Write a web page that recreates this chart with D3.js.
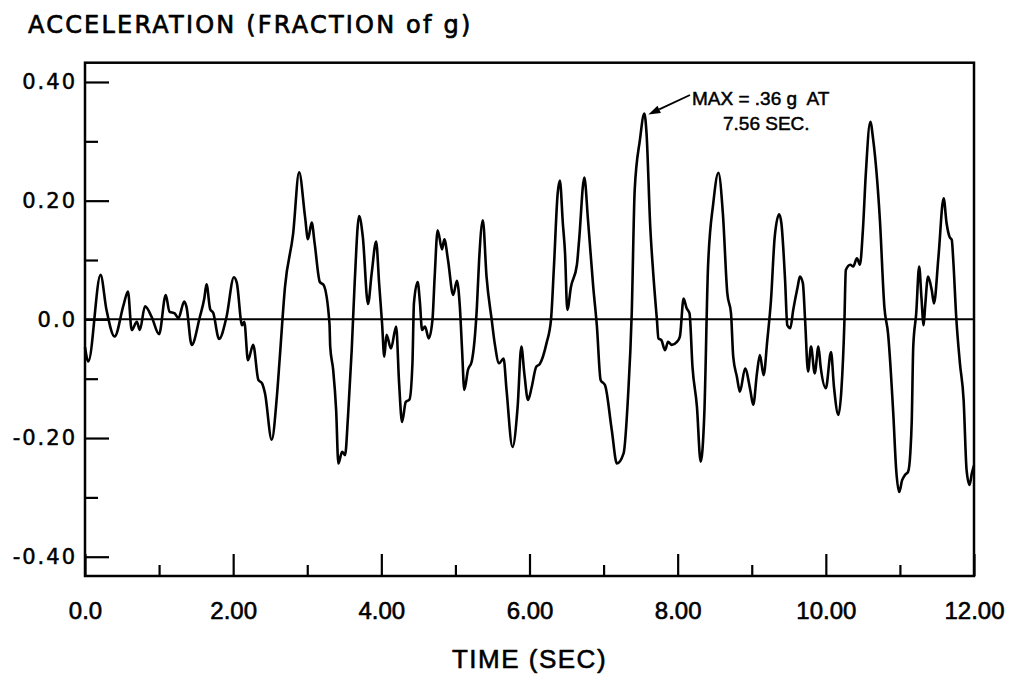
<!DOCTYPE html>
<html>
<head>
<meta charset="utf-8">
<script src="https://cdn.jsdelivr.net/npm/d3@7"></script>
<style>
    body { margin: 0; background: #fff; }
    svg { display: block; }
</style>
</head>
<body>
<svg id="chart" width="1012" height="677"></svg>
<script>

// time in seconds
let timeSec = [0.00,0.045,0.21,0.29,0.40,0.52,0.58,0.63,0.70,0.74,0.81,0.90,1.00,1.09,1.14,1.21,1.26,1.34,1.37,1.44,
    1.55,1.61,1.64,1.69,1.73,1.81,1.91,2.01,2.05,2.12,2.15,2.20,2.27,2.34,2.39,2.43,2.52,2.59,2.63,2.70,
    2.81,2.89,2.97,3.01,3.06,3.10,3.17,3.22,3.30,3.31,3.35,3.39,3.42,3.47,3.51,3.55,3.60,3.64,3.70,3.75,
    3.82,3.87,3.93,3.97,4.01,4.04,4.07,4.13,4.20,4.24,4.28,4.33,4.38,4.42,4.44,4.49,4.52,4.55,4.59,4.64,
    4.69,4.72,4.76,4.82,4.85,4.90,4.97,5.02,5.06,5.09,5.12,5.17,5.22,5.29,5.32,5.37,5.42,5.49,5.53,5.59,
    5.65,5.69,5.77,5.84,5.89,5.93,5.98,6.03,6.09,6.14,6.23,6.29,6.33,6.38,6.41,6.45,6.48,6.51,6.56,6.64,
    6.67,6.74,6.79,6.86,6.91,6.96,7.02,7.11,7.18,7.27,7.33,7.38,7.42,7.49,7.55,7.58,7.63,7.67,7.72,7.74,
    7.78,7.83,7.87,7.92,7.99,8.03,8.08,8.12,8.16,8.20,8.26,8.31,8.36,8.41,8.48,8.55,8.61,8.67,8.72,8.75,
    8.80,8.84,8.91,8.98,9.02,9.07,9.11,9.16,9.21,9.26,9.31,9.37,9.40,9.45,9.48,9.52,9.56,9.62,9.65,9.69,
    9.72,9.76,9.80,9.85,9.90,9.93,10.00,10.07,10.11,10.17,10.21,10.25,10.27,10.33,10.37,10.42,10.46,10.50,10.54,10.60,
    10.64,10.73,10.79,10.84,10.91,10.95,10.99,11.03,11.07,11.11,11.14,11.16,11.18,11.22,11.26,11.29,11.32,11.34,11.38,11.43,
    11.46,11.52,11.59,11.63,11.67,11.70,11.72,11.76,11.81,11.86,11.90,11.94,11.97,12.00];

// acceleration, fraction of g
let accelG = [-0.047,-0.071,0.075,0.016,-0.029,0.024,0.047,-0.018,-0.004,-0.018,0.022,0.004,-0.025,0.041,0.013,0.010,0.002,0.030,0.021,-0.043,
    0.004,0.035,0.059,0.017,0.011,-0.033,0.004,0.071,0.061,-0.010,-0.004,-0.069,-0.043,-0.102,-0.108,-0.125,-0.203,-0.130,-0.063,0.055,
    0.145,0.248,0.173,0.135,0.163,0.128,0.063,0.058,-0.007,-0.046,-0.085,-0.153,-0.243,-0.223,-0.229,-0.164,-0.052,0.061,0.174,0.139,
    0.026,0.078,0.131,0.061,-0.007,-0.063,-0.026,-0.049,-0.012,-0.108,-0.173,-0.139,-0.135,-0.074,0.027,0.063,0.030,-0.018,-0.012,-0.032,
    -0.001,0.072,0.150,0.118,0.135,0.100,0.041,0.065,0.021,-0.052,-0.119,-0.085,-0.071,0.021,0.100,0.167,0.072,-0.001,-0.040,-0.074,
    -0.066,-0.119,-0.215,-0.147,-0.046,-0.091,-0.136,-0.114,-0.080,-0.075,-0.040,-0.001,0.089,0.212,0.234,0.162,0.111,0.016,0.055,0.092,
    0.134,0.239,0.167,0.055,-0.012,-0.102,-0.111,-0.186,-0.243,-0.226,-0.130,0.010,0.218,0.302,0.347,0.313,0.156,0.078,-0.001,-0.032,
    -0.035,-0.052,-0.038,-0.043,-0.038,-0.029,0.035,0.019,0.010,-0.080,-0.147,-0.240,-0.158,0.089,0.195,0.247,0.179,0.044,0.010,-0.063,
    -0.097,-0.122,-0.083,-0.119,-0.144,-0.091,-0.060,-0.094,-0.035,0.033,0.139,0.177,0.162,0.066,-0.010,-0.015,0.016,0.055,0.072,0.061,
    -0.001,-0.088,-0.046,-0.091,-0.046,-0.080,-0.116,-0.055,-0.114,-0.161,-0.119,-0.007,0.083,0.092,0.089,0.103,0.092,0.150,0.246,0.333,
    0.302,0.167,0.021,-0.024,-0.158,-0.254,-0.291,-0.271,-0.262,-0.257,-0.226,-0.170,-0.046,0.010,0.089,0.038,-0.010,0.021,0.072,0.049,
    0.027,0.105,0.204,0.162,0.139,0.134,0.100,0.004,-0.074,-0.136,-0.254,-0.279,-0.260,-0.246];

let yMajorTicks = [-0.4, -0.2, 0, 0.2, 0.4];
let yMinorTicks = [-0.3, -0.1, 0.1, 0.3];
let yTickLabels = ["-0.40", "-0.20", "0.0", "0.20", "0.40"];

let xMajorTicks = [0, 2, 4, 6, 8, 10, 12];
let xMinorTicks = [1, 3, 5, 7, 9, 11];
let xTickLabels = ["0.0", "2.00", "4.00", "6.00", "8.00", "10.00", "12.00"];

let titleText = "ACCELERATION (FRACTION of g)";
let xAxisText = "TIME (SEC)";
let noteLines = ["MAX = .36 g  AT", "7.56 SEC."];


let svg = d3.select("#chart");

let plotLeft = 85, plotRight = 974, plotTop = 62.7, plotBottom = 576;

let x = d3.scaleLinear().domain([0, 12]).range([plotLeft, plotRight]);
let y = d3.scaleLinear().domain([-0.4325, 0.4325]).range([plotBottom, plotTop]);

// lettering on the original is inked, give the fonts a bit of weight
function inked(sel, w) {
    sel.attr("fill", "#000")
        .attr("stroke", "#000")
        .attr("stroke-width", w)
        .attr("stroke-linejoin", "round");
}

// frame
svg.append("rect")
    .attr("x", plotLeft).attr("y", plotTop)
    .attr("width", plotRight - plotLeft).attr("height", plotBottom - plotTop)
    .attr("fill", "none")
    .attr("stroke", "#000")
    .attr("stroke-width", 2.5);

// y ticks point into the plot
let yMajor = svg.append("g")
    .attr("transform", "translate(" + plotLeft + ",0)")
    .call(d3.axisLeft(y)
        .tickValues(yMajorTicks)
        .tickSize(-24)
        .tickPadding(8)
        .tickFormat((d, i) => yTickLabels[i]));

let yMinor = svg.append("g")
    .attr("transform", "translate(" + plotLeft + ",0)")
    .call(d3.axisLeft(y).tickValues(yMinorTicks).tickSize(-13).tickFormat(""));

yMajor.selectAll("text")
    .attr("font-family", "DejaVu Sans")
    .attr("font-size", 21)
    .attr("letter-spacing", 2)
    .call(inked, 0.5);

// x ticks, long ones every 2 sec
let xMajor = svg.append("g")
    .attr("transform", "translate(0," + plotBottom + ")")
    .call(d3.axisBottom(x)
        .tickValues(xMajorTicks)
        .tickSize(-22)
        .tickPadding(26)
        .tickFormat((d, i) => xTickLabels[i]));

let xMinor = svg.append("g")
    .attr("transform", "translate(0," + plotBottom + ")")
    .call(d3.axisBottom(x).tickValues(xMinorTicks).tickSize(-11).tickFormat(""));

xMajor.selectAll("text")
    .attr("font-family", "Liberation Sans")
    .attr("font-size", 24)
    .call(inked, 0.6);

[yMajor, yMinor, xMajor, xMinor].forEach(function(g) {
    g.select(".domain").remove();
    g.selectAll("line").attr("stroke", "#000").attr("stroke-width", 2.2);
});

// zero line
svg.append("line")
    .attr("x1", x(0)).attr("x2", x(12))
    .attr("y1", y(0)).attr("y2", y(0))
    .attr("stroke", "#000")
    .attr("stroke-width", 2);

// the record
let line = d3.line()
    .curve(d3.curveMonotoneX)
    .x(d => x(d[0]))
    .y(d => y(d[1]));

svg.append("path")
    .datum(d3.zip(timeSec, accelG))
    .attr("d", line)
    .attr("fill", "none")
    .attr("stroke", "#000")
    .attr("stroke-width", 2.6)
    .attr("stroke-linejoin", "round");

// titles
svg.append("text")
    .attr("x", 28).attr("y", 33)
    .attr("font-family", "DejaVu Sans")
    .attr("font-size", 24)
    .attr("letter-spacing", 2.2)
    .text(titleText)
    .call(inked, 0.7);

svg.append("text")
    .attr("x", (plotLeft + plotRight) / 2).attr("y", 668)
    .attr("text-anchor", "middle")
    .attr("font-family", "Liberation Sans")
    .attr("font-size", 26)
    .attr("letter-spacing", 1.5)
    .text(xAxisText)
    .call(inked, 0.6);

// max annotation, arrow points at the peak
let iMax = d3.maxIndex(accelG);
let tipX = x(timeSec[iMax]) + 4, tipY = y(accelG[iMax]) + 1;
let tailX = 690, tailY = 95;

let ang = Math.atan2(tipY - tailY, tipX - tailX);
let hl = 12, hw = 4;
let bx = tipX - hl * Math.cos(ang), by = tipY - hl * Math.sin(ang);

svg.append("line")
    .attr("x1", tailX).attr("y1", tailY)
    .attr("x2", bx).attr("y2", by)
    .attr("stroke", "#000")
    .attr("stroke-width", 1.8);

svg.append("path")
    .attr("d", "M" + tipX + "," + tipY +
        "L" + (bx + hw * Math.sin(ang)) + "," + (by - hw * Math.cos(ang)) +
        "L" + (bx - hw * Math.sin(ang)) + "," + (by + hw * Math.cos(ang)) + "Z")
    .attr("fill", "#000");

svg.append("text")
    .attr("x", 692).attr("y", 105)
    .attr("font-family", "Liberation Sans")
    .attr("font-size", 19)
    .style("white-space", "pre")
    .text(noteLines[0])
    .call(inked, 0.5);

svg.append("text")
    .attr("x", 723).attr("y", 130)
    .attr("font-family", "Liberation Sans")
    .attr("font-size", 19)
    .text(noteLines[1])
    .call(inked, 0.5);

</script>
</body>
</html>
